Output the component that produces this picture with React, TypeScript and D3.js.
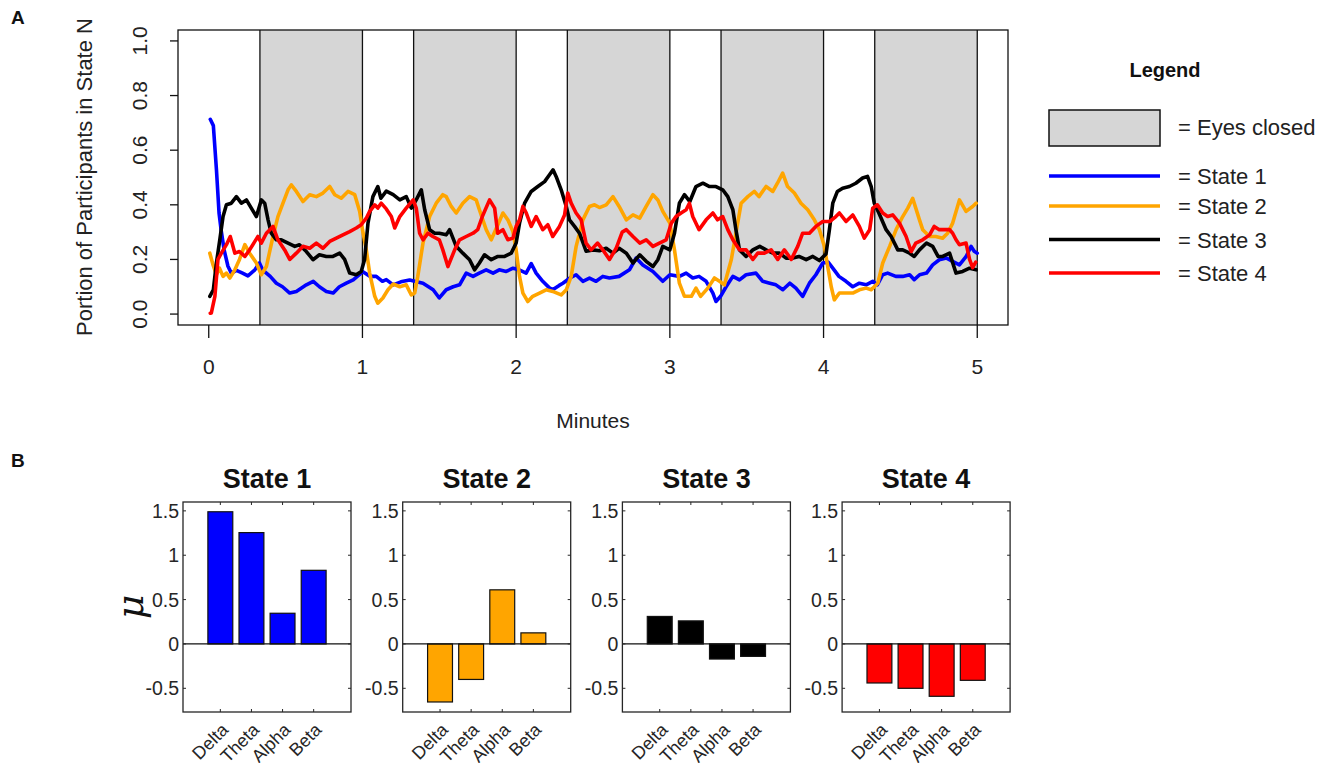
import React from 'react';
import * as d3 from 'd3';

// ---------- Panel A data ----------
const MINUTE_TICKS = [0, 1, 2, 3, 4, 5];
const PROPORTION_TICKS = [0, 0.2, 0.4, 0.6, 0.8, 1.0];
const EYES_CLOSED = [[0.333, 1], [1.333, 2], [2.333, 3], [3.333, 4], [4.333, 5]];

const STATE1_SERIES = [[0.01,0.713],[0.03,0.69],[0.05,0.53],[0.067,0.37],[0.08,0.31],[0.10,0.235],[0.125,0.175],[0.147,0.15],[0.18,0.16],[0.22,0.15],[0.255,0.14],[0.30,0.162],[0.33,0.187],[0.35,0.162],[0.40,0.138],[0.44,0.113],[0.48,0.10],[0.527,0.077],[0.57,0.083],[0.635,0.107],[0.68,0.12],[0.72,0.10],[0.765,0.083],[0.81,0.077],[0.85,0.10],[0.895,0.113],[0.94,0.125],[0.98,0.144],[1.0,0.156],[1.05,0.138],[1.09,0.138],[1.13,0.12],[1.155,0.126],[1.2,0.107],[1.25,0.118],[1.307,0.125],[1.34,0.12],[1.394,0.113],[1.46,0.089],[1.50,0.059],[1.545,0.089],[1.59,0.10],[1.632,0.107],[1.675,0.15],[1.72,0.138],[1.76,0.15],[1.805,0.162],[1.85,0.15],[1.89,0.162],[1.935,0.156],[1.98,0.168],[2.02,0.162],[2.065,0.15],[2.098,0.185],[2.13,0.15],[2.173,0.12],[2.218,0.095],[2.24,0.09],[2.28,0.105],[2.304,0.113],[2.35,0.132],[2.39,0.144],[2.434,0.12],[2.477,0.132],[2.52,0.12],[2.564,0.138],[2.607,0.132],[2.67,0.138],[2.737,0.162],[2.78,0.205],[2.824,0.18],[2.89,0.156],[2.954,0.12],[3.0,0.144],[3.062,0.138],[3.106,0.15],[3.149,0.132],[3.19,0.138],[3.236,0.12],[3.28,0.077],[3.30,0.046],[3.33,0.065],[3.366,0.10],[3.41,0.138],[3.453,0.125],[3.496,0.144],[3.56,0.15],[3.604,0.12],[3.65,0.113],[3.69,0.107],[3.735,0.089],[3.78,0.113],[3.82,0.095],[3.864,0.065],[3.908,0.113],[3.95,0.144],[3.995,0.187],[4.03,0.19],[4.06,0.168],[4.1,0.138],[4.146,0.12],[4.19,0.10],[4.233,0.113],[4.277,0.107],[4.32,0.12],[4.35,0.107],[4.385,0.144],[4.417,0.15],[4.47,0.138],[4.515,0.138],[4.56,0.144],[4.59,0.126],[4.625,0.144],[4.67,0.15],[4.71,0.18],[4.753,0.199],[4.8,0.205],[4.84,0.193],[4.884,0.18],[4.927,0.21],[4.96,0.248],[4.98,0.23],[5.0,0.223]];

const STATE2_SERIES = [[0.007,0.223],[0.028,0.18],[0.05,0.144],[0.07,0.168],[0.093,0.138],[0.115,0.15],[0.137,0.132],[0.17,0.162],[0.2,0.2],[0.235,0.254],[0.266,0.223],[0.31,0.187],[0.342,0.144],[0.375,0.174],[0.418,0.284],[0.45,0.357],[0.483,0.406],[0.516,0.455],[0.537,0.473],[0.57,0.449],[0.613,0.412],[0.657,0.437],[0.7,0.43],[0.743,0.443],[0.787,0.467],[0.82,0.437],[0.862,0.424],[0.906,0.449],[0.95,0.437],[0.982,0.376],[1.0,0.31],[1.025,0.235],[1.047,0.15],[1.08,0.065],[1.1,0.04],[1.133,0.059],[1.166,0.089],[1.2,0.11],[1.243,0.10],[1.285,0.107],[1.318,0.07],[1.34,0.077],[1.36,0.138],[1.394,0.26],[1.437,0.357],[1.48,0.406],[1.523,0.437],[1.545,0.43],[1.578,0.394],[1.61,0.37],[1.653,0.406],[1.697,0.43],[1.74,0.418],[1.761,0.382],[1.805,0.309],[1.838,0.272],[1.881,0.327],[1.914,0.37],[1.946,0.345],[1.979,0.302],[2.0,0.235],[2.022,0.138],[2.044,0.077],[2.076,0.046],[2.108,0.065],[2.152,0.077],[2.195,0.089],[2.238,0.083],[2.293,0.07],[2.326,0.089],[2.358,0.138],[2.39,0.247],[2.434,0.345],[2.477,0.394],[2.51,0.4],[2.542,0.39],[2.586,0.4],[2.63,0.43],[2.67,0.394],[2.717,0.345],[2.76,0.363],[2.804,0.351],[2.846,0.394],[2.89,0.437],[2.922,0.418],[2.954,0.376],[3.0,0.333],[3.03,0.235],[3.062,0.113],[3.095,0.065],[3.14,0.065],[3.17,0.095],[3.2,0.065],[3.247,0.095],[3.29,0.132],[3.323,0.12],[3.355,0.107],[3.4,0.2],[3.43,0.296],[3.464,0.406],[3.507,0.43],[3.55,0.449],[3.58,0.43],[3.626,0.467],[3.67,0.449],[3.7,0.479],[3.734,0.516],[3.766,0.467],[3.81,0.443],[3.853,0.406],[3.897,0.382],[3.94,0.345],[3.973,0.309],[4.005,0.248],[4.027,0.174],[4.05,0.10],[4.07,0.052],[4.103,0.077],[4.146,0.077],[4.19,0.077],[4.233,0.089],[4.277,0.095],[4.31,0.089],[4.353,0.113],[4.385,0.187],[4.43,0.248],[4.472,0.309],[4.515,0.357],[4.548,0.388],[4.58,0.424],[4.6,0.388],[4.624,0.345],[4.645,0.309],[4.69,0.284],[4.73,0.284],[4.775,0.278],[4.807,0.296],[4.84,0.333],[4.884,0.418],[4.927,0.376],[4.97,0.394],[4.993,0.406]];

const STATE3_SERIES = [[0.007,0.065],[0.03,0.089],[0.05,0.187],[0.072,0.272],[0.093,0.357],[0.115,0.4],[0.147,0.406],[0.18,0.43],[0.212,0.406],[0.245,0.418],[0.277,0.388],[0.31,0.357],[0.342,0.418],[0.364,0.406],[0.386,0.345],[0.407,0.296],[0.44,0.272],[0.472,0.272],[0.516,0.26],[0.56,0.248],[0.59,0.254],[0.635,0.229],[0.678,0.199],[0.72,0.217],[0.765,0.211],[0.808,0.211],[0.852,0.223],[0.884,0.2],[0.917,0.15],[0.96,0.144],[0.992,0.156],[1.014,0.2],[1.036,0.333],[1.068,0.43],[1.1,0.467],[1.12,0.424],[1.155,0.45],[1.2,0.437],[1.243,0.418],[1.285,0.43],[1.318,0.388],[1.35,0.418],[1.383,0.455],[1.405,0.382],[1.437,0.309],[1.47,0.296],[1.5,0.296],[1.545,0.29],[1.567,0.309],[1.61,0.248],[1.653,0.223],[1.697,0.199],[1.73,0.162],[1.761,0.187],[1.794,0.217],[1.838,0.199],[1.881,0.211],[1.925,0.211],[1.968,0.223],[2.0,0.26],[2.022,0.333],[2.055,0.406],[2.098,0.449],[2.141,0.467],[2.185,0.485],[2.217,0.51],[2.24,0.528],[2.26,0.504],[2.293,0.455],[2.326,0.394],[2.347,0.345],[2.38,0.321],[2.412,0.296],[2.455,0.23],[2.5,0.235],[2.542,0.232],[2.586,0.241],[2.63,0.223],[2.67,0.241],[2.717,0.223],[2.76,0.187],[2.804,0.217],[2.846,0.193],[2.89,0.174],[2.922,0.199],[2.954,0.248],[3.0,0.235],[3.03,0.296],[3.062,0.406],[3.095,0.437],[3.13,0.412],[3.17,0.467],[3.215,0.479],[3.258,0.467],[3.3,0.467],[3.344,0.455],[3.377,0.43],[3.41,0.382],[3.43,0.309],[3.453,0.235],[3.496,0.211],[3.54,0.235],[3.585,0.248],[3.626,0.235],[3.67,0.223],[3.713,0.223],[3.756,0.205],[3.8,0.205],[3.84,0.211],[3.887,0.199],[3.93,0.211],[3.973,0.196],[4.016,0.22],[4.038,0.309],[4.06,0.406],[4.09,0.449],[4.124,0.461],[4.168,0.467],[4.21,0.479],[4.254,0.498],[4.286,0.504],[4.31,0.467],[4.33,0.406],[4.36,0.37],[4.407,0.309],[4.44,0.284],[4.483,0.235],[4.515,0.235],[4.56,0.223],[4.59,0.211],[4.624,0.235],[4.67,0.26],[4.71,0.248],[4.745,0.211],[4.775,0.211],[4.82,0.223],[4.862,0.15],[4.905,0.156],[4.95,0.168],[4.993,0.162]];

const STATE4_SERIES = [[0.01,0.003],[0.017,0.004],[0.04,0.065],[0.06,0.2],[0.082,0.223],[0.115,0.254],[0.14,0.284],[0.17,0.223],[0.2,0.229],[0.235,0.211],[0.266,0.235],[0.3,0.266],[0.32,0.284],[0.342,0.26],[0.375,0.296],[0.418,0.321],[0.45,0.272],[0.494,0.235],[0.527,0.2],[0.57,0.223],[0.613,0.248],[0.657,0.241],[0.7,0.26],[0.743,0.241],[0.787,0.266],[0.83,0.278],[0.873,0.29],[0.917,0.302],[0.96,0.315],[0.992,0.327],[1.025,0.351],[1.047,0.376],[1.08,0.4],[1.1,0.388],[1.122,0.406],[1.155,0.385],[1.188,0.357],[1.21,0.315],[1.243,0.357],[1.285,0.388],[1.33,0.418],[1.35,0.388],[1.372,0.296],[1.394,0.272],[1.427,0.296],[1.458,0.284],[1.5,0.272],[1.523,0.235],[1.556,0.174],[1.6,0.235],[1.632,0.272],[1.675,0.284],[1.72,0.296],[1.75,0.309],[1.78,0.357],[1.827,0.418],[1.86,0.388],[1.88,0.296],[1.914,0.309],[1.946,0.272],[1.979,0.278],[2.0,0.321],[2.022,0.345],[2.044,0.394],[2.066,0.37],[2.098,0.321],[2.13,0.357],[2.173,0.309],[2.206,0.327],[2.238,0.284],[2.282,0.321],[2.315,0.363],[2.336,0.443],[2.358,0.406],[2.39,0.37],[2.423,0.345],[2.455,0.26],[2.488,0.235],[2.53,0.26],[2.564,0.235],[2.607,0.2],[2.65,0.24],[2.69,0.3],[2.717,0.309],[2.76,0.284],[2.804,0.26],[2.846,0.272],[2.89,0.248],[2.932,0.26],[2.976,0.272],[3.01,0.333],[3.04,0.357],[3.073,0.37],[3.106,0.382],[3.127,0.406],[3.149,0.357],[3.19,0.309],[3.236,0.345],[3.28,0.37],[3.31,0.345],[3.344,0.357],[3.377,0.309],[3.41,0.272],[3.453,0.235],[3.496,0.235],[3.54,0.2],[3.572,0.223],[3.615,0.223],[3.659,0.235],[3.702,0.2],[3.745,0.235],[3.79,0.2],[3.832,0.248],[3.864,0.296],[3.908,0.296],[3.95,0.321],[3.995,0.339],[4.04,0.339],[4.08,0.357],[4.103,0.37],[4.146,0.339],[4.19,0.363],[4.233,0.321],[4.265,0.278],[4.3,0.309],[4.32,0.388],[4.35,0.4],[4.385,0.37],[4.417,0.357],[4.45,0.363],[4.494,0.333],[4.537,0.284],[4.57,0.229],[4.6,0.26],[4.645,0.272],[4.69,0.29],[4.72,0.321],[4.753,0.309],[4.786,0.309],[4.82,0.309],[4.84,0.296],[4.862,0.272],[4.884,0.254],[4.927,0.26],[4.95,0.2],[4.97,0.17],[4.99,0.19]];

const STATE_NAMES = ['State 1', 'State 2', 'State 3', 'State 4'];
const STATE_COLORS = ['#0000ff', '#ffa500', '#000000', '#ff0000'];

// ---------- Panel B data ----------
const BANDS = ['Delta', 'Theta', 'Alpha', 'Beta'];
const MU_STATE1 = [1.49, 1.255, 0.346, 0.83];
const MU_STATE2 = [-0.654, -0.40, 0.61, 0.125];
const MU_STATE3 = [0.31, 0.26, -0.17, -0.14];
const MU_STATE4 = [-0.44, -0.50, -0.59, -0.41];
const MU_TICKS = [-0.5, 0, 0.5, 1, 1.5];
const MU_TICK_LABELS = ['-0.5', '0', '0.5', '1', '1.5'];

const SANS = '"Liberation Sans", Arial, Helvetica, sans-serif';

function PanelA() {
  const left = 178, right = 1008, top = 30, bottom = 325;
  const x = d3.scaleLinear().domain([-0.2, 5.2]).range([left, right]);
  const y = d3.scaleLinear().domain([-0.04, 1.04]).range([bottom, top]);
  const line = d3.line<number[]>().x(d => x(d[0])).y(d => y(d[1]));
  const series = [STATE1_SERIES, STATE2_SERIES, STATE3_SERIES, STATE4_SERIES];
  const fmt = d3.format('.1f');
  return (
    <g>
      <defs>
        <clipPath id="clipA">
          <rect x={left} y={top} width={right - left} height={bottom - top} />
        </clipPath>
      </defs>
      {EYES_CLOSED.map(([a, b], i) => (
        <rect key={'g' + i} x={x(a)} y={top} width={x(b) - x(a)} height={bottom - top} fill="#d6d6d6" />
      ))}
      {EYES_CLOSED.flat().map((v, i) => (
        <line key={'b' + i} x1={x(v)} x2={x(v)} y1={top} y2={bottom} stroke="#111" strokeWidth={1.3} />
      ))}
      <g clipPath="url(#clipA)">
        {series.map((s, i) => (
          <path key={'s' + i} d={line(s) || ''} fill="none" stroke={STATE_COLORS[i]} strokeWidth={3.6}
            strokeLinejoin="round" strokeLinecap="round" />
        ))}
      </g>
      <rect x={left} y={top} width={right - left} height={bottom - top} fill="none" stroke="#111" strokeWidth={1.3} />
      {MINUTE_TICKS.map(t => (
        <g key={'xt' + t}>
          <line x1={x(t)} x2={x(t)} y1={bottom} y2={bottom + 13} stroke="#111" strokeWidth={1.3} />
          <text x={x(t)} y={374} textAnchor="middle" fontFamily={SANS} fontSize={21} fill="#222">{t}</text>
        </g>
      ))}
      {PROPORTION_TICKS.map(v => (
        <g key={'yt' + v}>
          <line x1={left - 8} x2={left} y1={y(v)} y2={y(v)} stroke="#111" strokeWidth={1.3} />
          <text transform={`translate(${147},${y(v)}) rotate(-90)`} textAnchor="middle" fontFamily={SANS} fontSize={21} fill="#222">{fmt(v)}</text>
        </g>
      ))}
      <text x={593} y={428} textAnchor="middle" fontFamily={SANS} fontSize={21} fill="#222">Minutes</text>
      <text transform={`translate(92,177) rotate(-90)`} textAnchor="middle" fontFamily={SANS} fontSize={22} fill="#222">Portion of Participants in State N</text>
      <text x={11} y={24} fontFamily={SANS} fontSize={19} fontWeight="bold" fill="#111">A</text>

      {/* Legend */}
      <text x={1165} y={77} textAnchor="middle" fontFamily={SANS} fontSize={20} fontWeight="bold" fill="#111">Legend</text>
      <rect x={1049} y={110} width={111} height={36} fill="#d6d6d6" stroke="#111" strokeWidth={1.5} />
      <text x={1178} y={135} fontFamily={SANS} fontSize={22} fill="#222">= Eyes closed</text>
      {STATE_NAMES.map((n, i) => {
        const ly = [176, 206, 239.5, 273][i];
        return (
          <g key={'lg' + i}>
            <line x1={1049} x2={1160} y1={ly} y2={ly} stroke={STATE_COLORS[i]} strokeWidth={3.5} />
            <text x={1178} y={ly + 2.5} dominantBaseline="middle" fontFamily={SANS} fontSize={22} fill="#222">{'= ' + n}</text>
          </g>
        );
      })}
    </g>
  );
}

function BarPanel({ idx, values }: { idx: number; values: number[] }) {
  const boxLeft = 183 + idx * 219.7;
  const boxW = 168;
  const top = 502, bottom = 712;
  const x = d3.scaleLinear().domain([-0.2, 5.2]).range([boxLeft, boxLeft + boxW]);
  const y = d3.scaleLinear().domain([-0.767, 1.6]).range([bottom, top]);
  const bw = (x(1) - x(0)) * 0.8;
  const color = STATE_COLORS[idx];
  return (
    <g>
      <text x={boxLeft + boxW / 2} y={488} textAnchor="middle" fontFamily={SANS} fontSize={27} fontWeight="bold" fill="#111">{STATE_NAMES[idx]}</text>
      <rect x={boxLeft} y={top} width={boxW} height={bottom - top} fill="#fff" stroke="none" />
      {values.map((v, i) => {
        const cx = x(i + 1);
        const y0 = y(0), y1 = y(v);
        return (
          <rect key={'bar' + i} x={cx - bw / 2} y={Math.min(y0, y1)} width={bw} height={Math.abs(y1 - y0)}
            fill={color} stroke="#111" strokeWidth={1.2} />
        );
      })}
      <line x1={boxLeft} x2={boxLeft + boxW} y1={y(0)} y2={y(0)} stroke="#111" strokeWidth={1.3} />
      <rect x={boxLeft} y={top} width={boxW} height={bottom - top} fill="none" stroke="#262626" strokeWidth={1.3} />
      {MU_TICKS.map((t, i) => (
        <g key={'yt' + i}>
          <line x1={boxLeft} x2={boxLeft + 3} y1={y(t)} y2={y(t)} stroke="#262626" />
          <line x1={boxLeft + boxW - 3} x2={boxLeft + boxW} y1={y(t)} y2={y(t)} stroke="#262626" />
          <text x={boxLeft - 4} y={y(t)} dy="0.36em" textAnchor="end" fontFamily={SANS} fontSize={19.5} fill="#262626">{MU_TICK_LABELS[i]}</text>
        </g>
      ))}
      {BANDS.map((b, i) => {
        const cx = x(i + 1);
        return (
          <g key={'xt' + i}>
            <line x1={cx} x2={cx} y1={top} y2={top + 3} stroke="#262626" />
            <line x1={cx} x2={cx} y1={bottom - 3} y2={bottom} stroke="#262626" />
            <text transform={`translate(${cx + 9},${731}) rotate(-45)`} textAnchor="end" fontFamily={SANS} fontSize={18} fill="#262626">{b}</text>
          </g>
        );
      })}
    </g>
  );
}

export default function App() {
  const barValues = [MU_STATE1, MU_STATE2, MU_STATE3, MU_STATE4];
  return (
    <svg width={1336} height={763} style={{ position: 'absolute', left: 0, top: 0, background: '#fff' }}>
      <rect width={1336} height={763} fill="#fff" />
      <PanelA />
      <text x={11} y={467} fontFamily={SANS} fontSize={19} fontWeight="bold" fill="#111">B</text>
      {barValues.map((v, i) => <BarPanel key={i} idx={i} values={v} />)}
      <text transform="translate(133,607) rotate(-90)" textAnchor="middle" dominantBaseline="middle"
        fontFamily={'"DejaVu Serif", "Liberation Serif", serif'} fontStyle="italic" fontSize={38} fill="#111">μ</text>
    </svg>
  );
}
